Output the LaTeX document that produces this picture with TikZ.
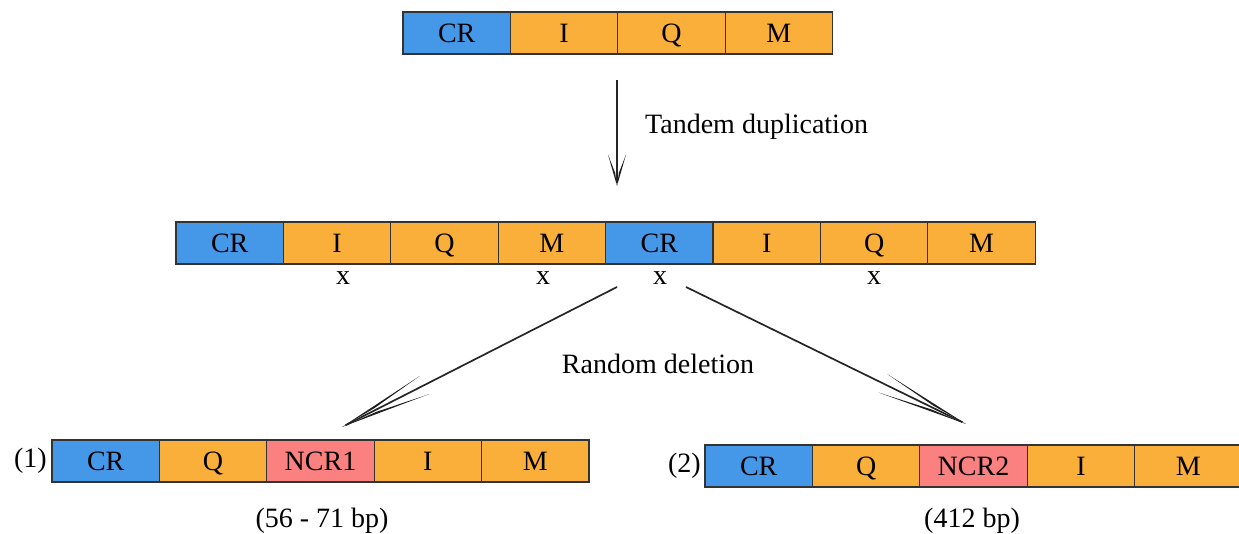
\documentclass[tikz,border=0pt]{standalone}
\usepackage{fontspec}
\setmainfont{Liberation Serif}
\usetikzlibrary{calc}
\definecolor{cblue}{HTML}{4597E8}
\definecolor{corange}{HTML}{F9AF3A}
\definecolor{cpink}{HTML}{FB8080}
\definecolor{cline}{HTML}{333333}
% #1 = start coordinate, #2 = tip coordinate, #3 = barb length, #4 = barb angle
\newcommand\barbtip[4]{%
  \fill[black!88] (#2) -- ($(#2)!#3!#4:(#1)$) -- ($(#2)!0.4*#3!0.5*#4:(#1)$) -- cycle;
  \fill[black!88] (#2) -- ($(#2)!#3!-#4:(#1)$) -- ($(#2)!0.4*#3!-0.5*#4:(#1)$) -- cycle;
}
\begin{document}
\begin{tikzpicture}[x=1pt,y=1pt,
  cell/.style={draw=cline,line width=1.3pt,minimum width=107.4pt,minimum height=42pt,inner sep=0pt,outer sep=0pt,anchor=west,text height=18.5pt,text depth=0pt,font=\fontsize{28}{32}\selectfont},
  cr/.style={cell,fill=cblue},
  og/.style={cell,fill=corange},
  nc/.style={cell,fill=cpink},
  lbl/.style={font=\fontsize{28}{32}\selectfont,inner sep=0pt},
  shaft/.style={draw=black!85,line width=1.7pt}]
\useasboundingbox (0,0) rectangle (1239,-534);
% top row
\node[cr] (t1) at (403,-33) {CR};
\node[og] (t2) at (t1.east) {I};
\node[og] (t3) at (t2.east) {Q};
\node[og] (t4) at (t3.east) {M};
% middle row
\node[cr] (m1) at (176,-243) {CR};
\node[og] (m2) at (m1.east) {I};
\node[og] (m3) at (m2.east) {Q};
\node[og] (m4) at (m3.east) {M};
\node[cr] (m5) at (m4.east) {CR};
\node[og] (m6) at (m5.east) {I};
\node[og] (m7) at (m6.east) {Q};
\node[og] (m8) at (m7.east) {M};
\node[lbl] (x1) at (343,-278) {x};
\node[lbl] (x2) at (543,-278) {x};
\node[lbl] (x3) at (660,-278) {x};
\node[lbl] (x4) at (874,-278) {x};
% bottom left
\node[lbl,anchor=east] (n1) at (47,-461) {(1)};
\node[cr] (a1) at (52,-461) {CR};
\node[og] (a2) at (a1.east) {Q};
\node[nc] (a3) at (a2.east) {NCR1};
\node[og] (a4) at (a3.east) {I};
\node[og] (a5) at (a4.east) {M};
\node[lbl] (s1) at (322,-521) {(56 - 71 bp)};
% bottom right
\node[lbl,anchor=east] (n2) at (701,-466) {(2)};
\node[cr] (b1) at (705,-466) {CR};
\node[og] (b2) at (b1.east) {Q};
\node[nc] (b3) at (b2.east) {NCR2};
\node[og] (b4) at (b3.east) {I};
\node[og] (b5) at (b4.east) {M};
\node[lbl] (s2) at (972,-521) {(412 bp)};
% connectors
\coordinate (d0) at (617,-80);
\coordinate (d1) at (617,-186);
\draw[shaft,line width=2pt] (d0) -- ($(d1)!3pt!(d0)$);
\barbtip{d0}{d1}{33pt}{16}
\node[lbl,anchor=west] (td) at (645,-127) {Tandem duplication};
\coordinate (l0) at (617,-287);
\coordinate (l1) at (342,-427);
\coordinate (r0) at (686,-287);
\coordinate (r1) at (966,-424);
\draw[shaft] (l0) -- ($(l1)!4pt!(l0)$);
\draw[shaft] (r0) -- ($(r1)!4pt!(r0)$);
\barbtip{l0}{l1}{93pt}{6.3}
\barbtip{r0}{r1}{93pt}{6.3}
\node[lbl] (rd) at (658,-364) {Random deletion};
\end{tikzpicture}
\end{document}
